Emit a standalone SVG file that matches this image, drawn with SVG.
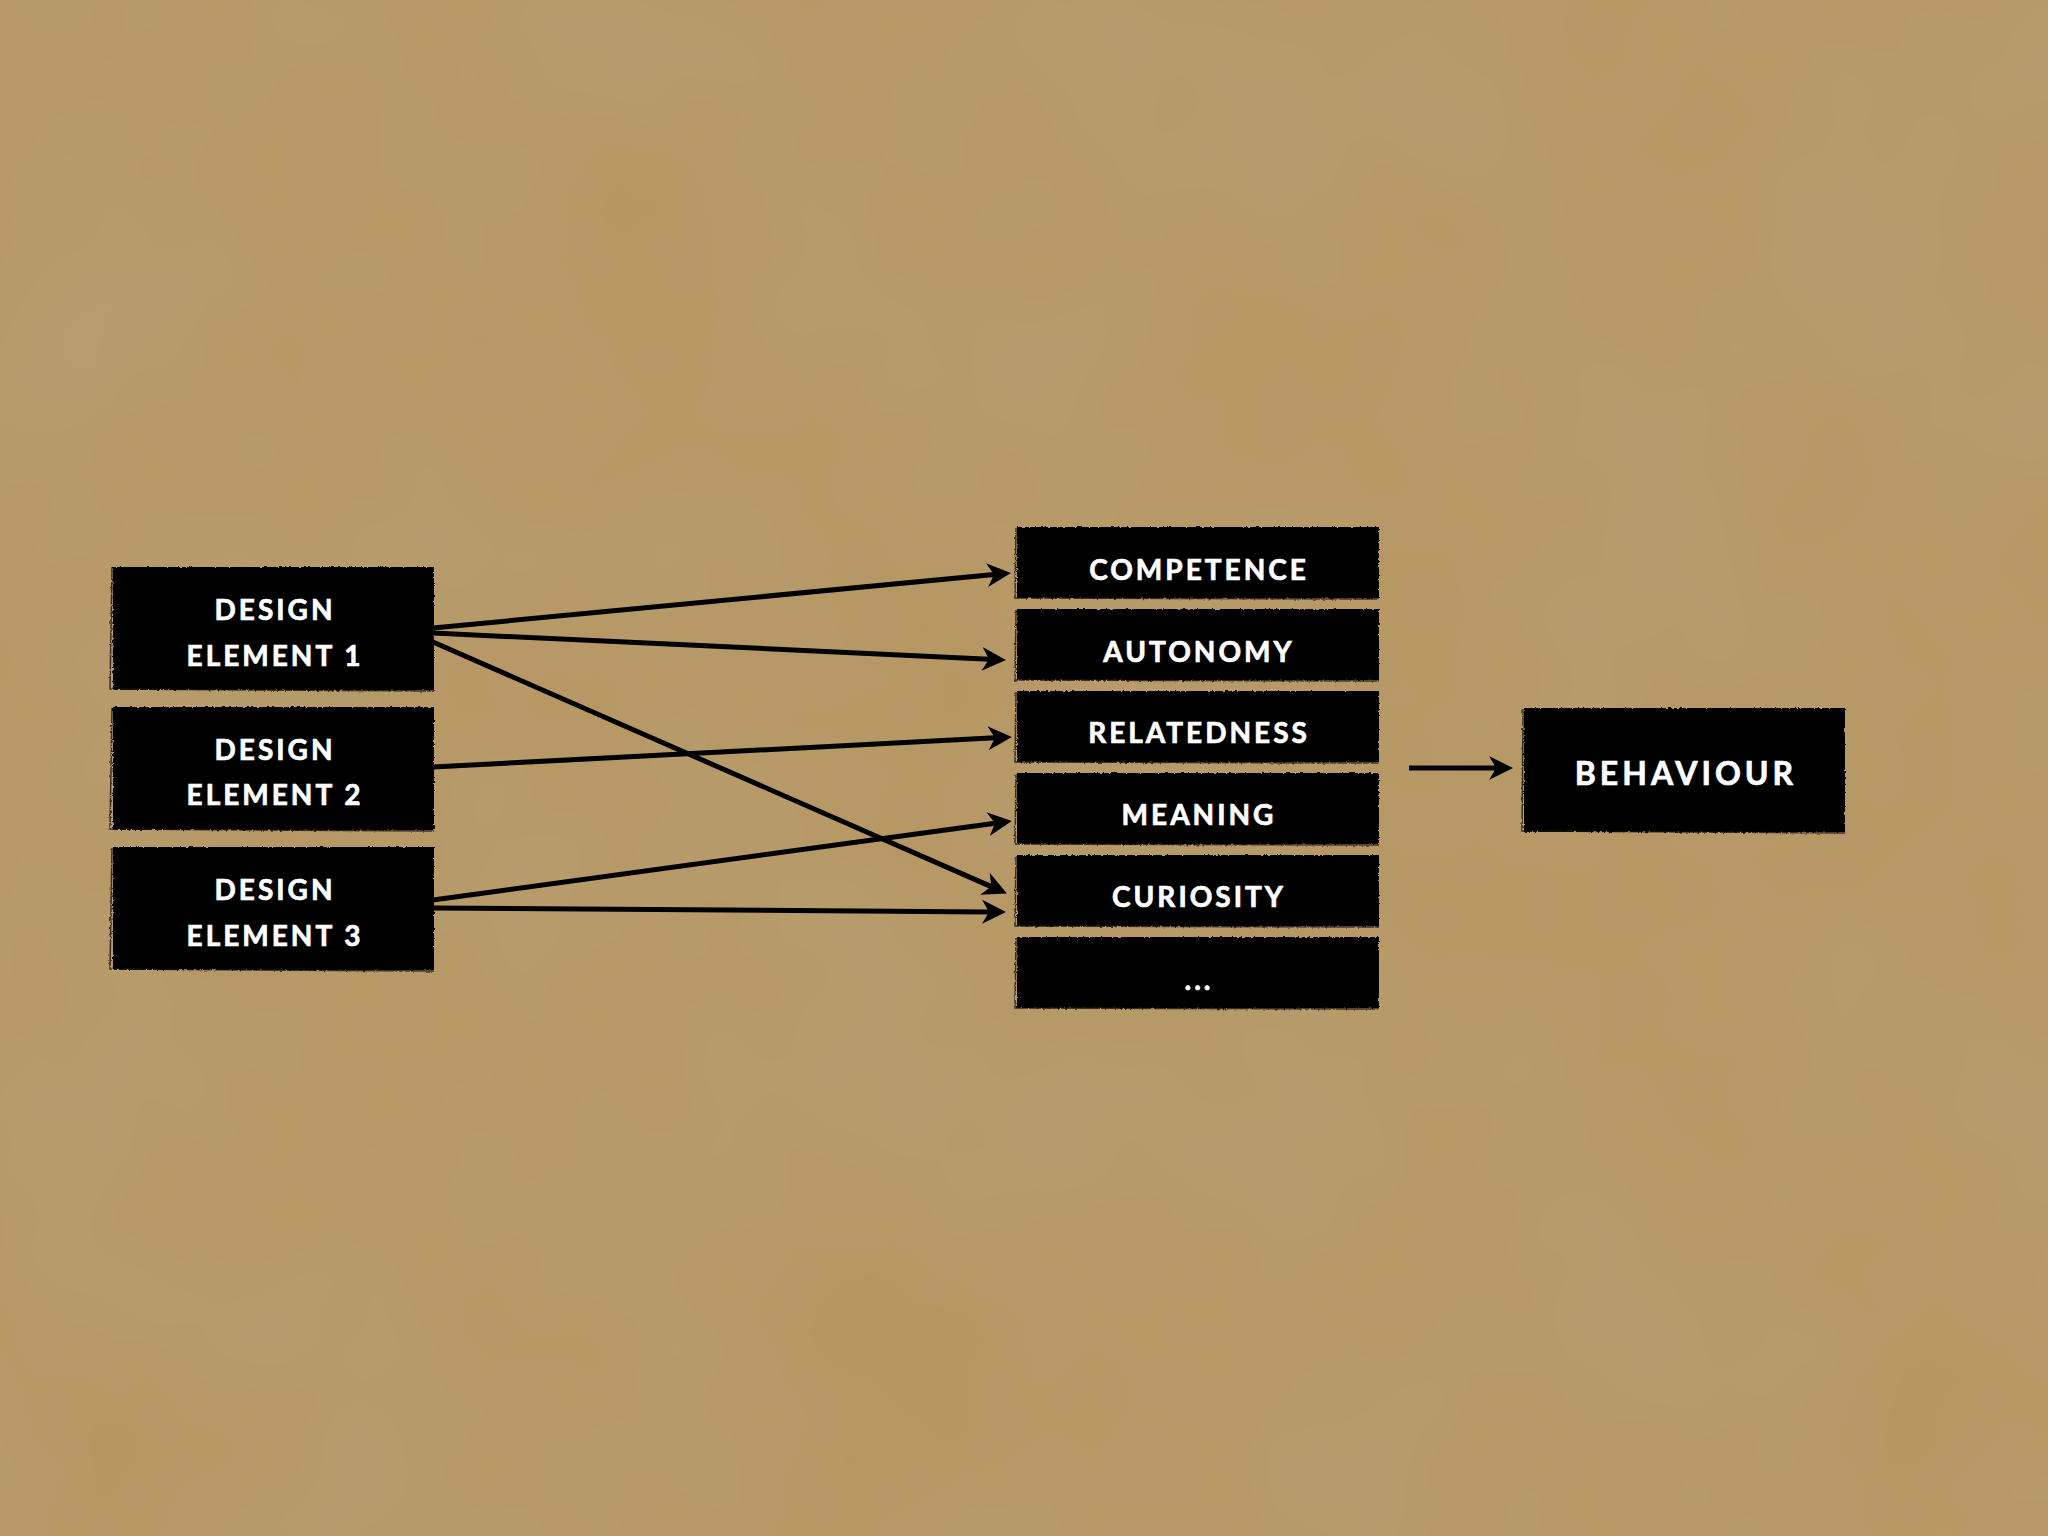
<svg xmlns="http://www.w3.org/2000/svg" width="2048" height="1536" viewBox="0 0 2048 1536">
  <defs>
    <style>
      .box { fill: #000; }
      .edge { fill: none; stroke: #1a1410; stroke-width: 1.5; opacity: 0.8; }
      .lbl { font-family: Lato, "Open Sans", "Liberation Sans", sans-serif; font-weight: 700; font-size: 28px; fill: #fff; stroke: #fff; stroke-width: 0.7px; text-anchor: middle; letter-spacing: 3px; }
      .big { font-size: 32px; letter-spacing: 4px; }
      .conn { fill: none; stroke: #000; stroke-width: 5; stroke-linecap: butt; }
    </style>
    <marker id="arr" markerUnits="userSpaceOnUse" markerWidth="30" markerHeight="30" refX="7" refY="13" orient="auto">
      <path d="M0,1 L24,13 L0,25 L7,13 Z" fill="#000"/>
    </marker>
    <filter id="paper" x="0" y="0" width="100%" height="100%">
      <feTurbulence type="fractalNoise" baseFrequency="0.004" numOctaves="3" seed="3" result="n"/>
      <feColorMatrix in="n" type="matrix" values="0 0 0 0 0.55  0 0 0 0 0.45  0 0 0 0 0.3  0 0 0 0.25 -0.03" result="c"/>
      <feComposite in="c" in2="SourceGraphic" operator="atop" result="b"/>
      <feTurbulence type="fractalNoise" baseFrequency="0.6" numOctaves="2" seed="5" result="g"/>
      <feColorMatrix in="g" type="matrix" values="0 0 0 0 0.45  0 0 0 0 0.36  0 0 0 0 0.22  0 0 0 0.18 0" result="gc"/>
      <feComposite in="gc" in2="b" operator="atop"/>
    </filter>
    <filter id="rough" x="-2%" y="-5%" width="104%" height="110%">
      <feTurbulence type="fractalNoise" baseFrequency="0.35" numOctaves="2" seed="7" result="t"/>
      <feDisplacementMap in="SourceGraphic" in2="t" scale="3" xChannelSelector="R" yChannelSelector="G"/>
    </filter>
  </defs>

  <rect width="2048" height="1536" fill="#b6955e" filter="url(#paper)"/>

  <g id="connectors">
    <path class="conn" d="M433,628 L994,574.5" marker-end="url(#arr)"/>
    <path class="conn" d="M433,633 L989,659.2" marker-end="url(#arr)"/>
    <path class="conn" d="M433,642 L991.3,886.6" marker-end="url(#arr)"/>
    <path class="conn" d="M433,767 L995,737.8" marker-end="url(#arr)"/>
    <path class="conn" d="M433,900 L995,823.2" marker-end="url(#arr)"/>
    <path class="conn" d="M433,908 L989,911.9" marker-end="url(#arr)"/>
    <path class="conn" d="M1409,768 L1496,768" marker-end="url(#arr)"/>
  </g>

  <g id="design-element-1">
    <g filter="url(#rough)">
      <rect class="box" x="113" y="567" width="321" height="123"/>
      <path class="edge" d="M112,568 L110,689 L434,691"/>
    </g>
    <text class="lbl" x="275" y="620">DESIGN</text>
    <text class="lbl" x="275" y="666">ELEMENT 1</text>
  </g>
  <g id="design-element-2">
    <g filter="url(#rough)">
      <rect class="box" x="113" y="707" width="321" height="123"/>
      <path class="edge" d="M112,708 L110,829 L434,831"/>
    </g>
    <text class="lbl" x="275" y="760">DESIGN</text>
    <text class="lbl" x="275" y="805">ELEMENT 2</text>
  </g>
  <g id="design-element-3">
    <g filter="url(#rough)">
      <rect class="box" x="113" y="847" width="321" height="123"/>
      <path class="edge" d="M112,848 L110,969 L434,971"/>
    </g>
    <text class="lbl" x="275" y="900">DESIGN</text>
    <text class="lbl" x="275" y="946">ELEMENT 3</text>
  </g>

  <g id="competence">
    <g filter="url(#rough)">
      <rect class="box" x="1017" y="527" width="362" height="71"/>
      <path class="edge" d="M1016,528 L1015,598 L1379,599"/>
    </g>
    <text class="lbl" x="1199" y="580">COMPETENCE</text>
  </g>
  <g id="autonomy">
    <g filter="url(#rough)">
      <rect class="box" x="1017" y="609" width="362" height="71"/>
      <path class="edge" d="M1016,610 L1015,680 L1379,681"/>
    </g>
    <text class="lbl" x="1199" y="662">AUTONOMY</text>
  </g>
  <g id="relatedness">
    <g filter="url(#rough)">
      <rect class="box" x="1017" y="691" width="362" height="71"/>
      <path class="edge" d="M1016,692 L1015,762 L1379,763"/>
    </g>
    <text class="lbl" x="1199" y="743">RELATEDNESS</text>
  </g>
  <g id="meaning">
    <g filter="url(#rough)">
      <rect class="box" x="1017" y="773" width="362" height="71"/>
      <path class="edge" d="M1016,774 L1015,844 L1379,845"/>
    </g>
    <text class="lbl" x="1199" y="825">MEANING</text>
  </g>
  <g id="curiosity">
    <g filter="url(#rough)">
      <rect class="box" x="1017" y="855" width="362" height="71"/>
      <path class="edge" d="M1016,856 L1015,926 L1379,927"/>
    </g>
    <text class="lbl" x="1199" y="907">CURIOSITY</text>
  </g>
  <g id="more">
    <g filter="url(#rough)">
      <rect class="box" x="1017" y="937" width="362" height="71"/>
      <path class="edge" d="M1016,938 L1015,1008 L1379,1009"/>
    </g>
    <text class="lbl" x="1199" y="990">...</text>
  </g>

  <g id="behaviour">
    <g filter="url(#rough)">
      <rect class="box" x="1524" y="708" width="321" height="124"/>
      <path class="edge" d="M1523,709 L1522,831 L1845,833"/>
    </g>
    <text class="lbl big" x="1686" y="785">BEHAVIOUR</text>
  </g>
</svg>
